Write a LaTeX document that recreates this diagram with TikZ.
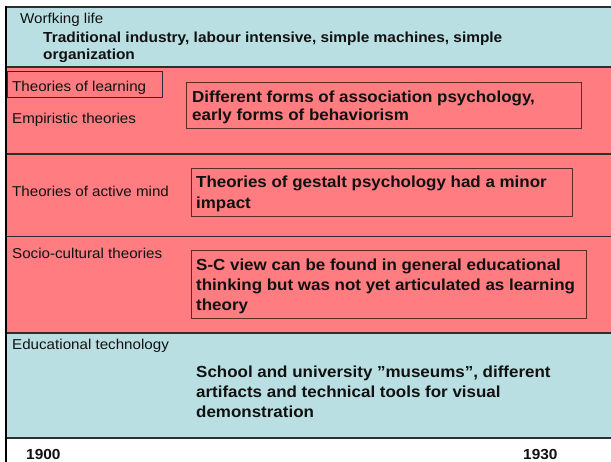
\documentclass[tikz,border=0pt]{standalone}
\usepackage{fontspec}
\setmainfont{Liberation Sans}[FakeStretch=1.06]
\definecolor{bandblue}{HTML}{B9DFE3}
\definecolor{bandred}{HTML}{FF7C80}
\definecolor{boxline}{HTML}{5A2C2C}
\definecolor{sepline}{HTML}{2E2E2E}
\definecolor{ink}{HTML}{111111}
\tikzset{
  lbl/.style={anchor=base west, inner sep=0pt, text=ink, font=\fontsize{14.3}{16}\selectfont},
  bld/.style={anchor=base west, inner sep=0pt, text=ink, font=\fontsize{16}{18}\selectfont\bfseries},
  bldsm/.style={anchor=base west, inner sep=0pt, text=ink, font=\fontsize{14.55}{16}\selectfont\bfseries},
  tbox/.style={draw=boxline, line width=1pt},
  sep/.style={draw=sepline, line width=1.1pt},
}
\begin{document}
\begin{tikzpicture}[x=1pt,y=-1pt]
\useasboundingbox (0,0) rectangle (611,462);
\fill[white] (0,0) rectangle (611,462);
% bands
\fill[bandblue] (6,7) rectangle (611,67);
\fill[bandred] (6,67) rectangle (611,333);
\fill[bandblue] (6,333) rectangle (611,438);
% separators
\draw[sep] (6,7) -- (611,7);
\draw[sep] (6,67) -- (611,67);
\draw[sep] (6,154) -- (611,154);
\draw[sep] (6,236.5) -- (611,236.5);
\draw[sep] (6,333) -- (611,333);
\draw[sep] (6,438) -- (611,438);
% left axis line
\draw[black, line width=2.5pt] (6,6) -- (6,462);
% boxes
\draw[draw=sepline, line width=1pt] (7.5,72) rectangle (162,98);
\draw[tbox] (186,83) rectangle (581,129);
\draw[tbox] (191,169) rectangle (572,217);
\draw[tbox] (191,251) rectangle (586.5,319);
% working life
\node[lbl] (wl) at (20,24) {Worfking life};
\node[bldsm] (wl1) at (43,43) {Traditional industry, labour intensive, simple machines, simple};
\node[bldsm] (wl2) at (43,60) {organization};
% theories of learning
\node[lbl] (tl) at (12,92) {Theories of learning};
\node[lbl] (emp) at (12,124) {Empiristic theories};
\node[bld] (b1a) at (192,103) {Different forms of association psychology,};
\node[bld] (b1b) at (192,120.5) {early forms of behaviorism};
% active mind
\node[lbl] (am) at (12,196.5) {Theories of active mind};
\node[bld] (b2a) at (196,187.5) {Theories of gestalt psychology had a minor};
\node[bld] (b2b) at (196,208.5) {impact};
% socio-cultural
\node[lbl] (sc) at (12,259) {Socio-cultural theories};
\node[bld] (b3a) at (196,271) {S-C view can be found in general educational};
\node[bld] (b3b) at (196,290.5) {thinking but was not yet articulated as learning};
\node[bld] (b3c) at (196,311) {theory};
% educational technology
\node[lbl] (et) at (12,350) {Educational technology};
\node[bld] (b4a) at (196,378) {School and university ”museums”, different};
\node[bld] (b4b) at (196,398) {artifacts and technical tools for visual};
\node[bld] (b4c) at (196,418) {demonstration};
% years
\node[bldsm] (y1) at (26,460) {1900};
\node[bldsm] (y2) at (523,460) {1930};
\end{tikzpicture}
\end{document}
